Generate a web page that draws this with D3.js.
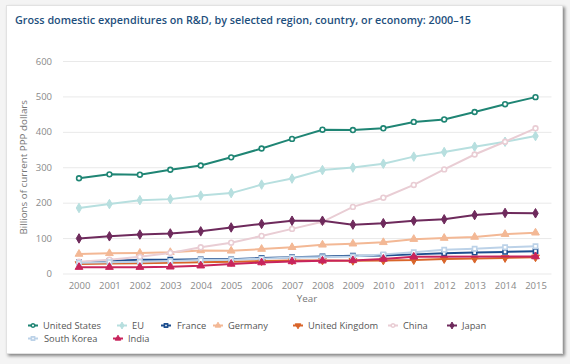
<!DOCTYPE html>
<html>
<head>
<meta charset="utf-8">
<script src="https://cdn.jsdelivr.net/npm/d3@7"></script>
<style>
  html, body { margin: 0; padding: 0; background: #f4f4f4; }
  #card {
    position: absolute; left: 6px; top: 5px; width: 555px; height: 347px;
    background: #fff; border: 1px solid #e2e2e2;
    box-shadow: 2px 2px 3px rgba(0,0,0,0.45);
  }
  svg { position: absolute; left: 0; top: 0; }
</style>
</head>
<body>
<div id="card"></div>
<div id="chart"></div>
<script>
// years on the x axis
var years = d3.range(2000, 2016);

// series values, billions of current PPP dollars
var unitedStates = [269, 280, 279, 293, 305, 328, 353, 380, 406, 405, 410, 428, 435, 456, 478, 498];
var eu = [185, 196, 207, 210, 220, 227, 251, 268, 292, 299, 310, 330, 343, 358, 372, 388];
var france = [32, 35, 39, 39, 40, 40, 44, 46, 48, 50, 51, 54, 57, 59, 61, 63];
var germany = [55, 57, 58, 60, 65, 64, 69, 74, 81, 84, 88, 97, 100, 103, 111, 115];
var unitedKingdom = [27, 28, 29, 30, 32, 33, 35, 37, 37, 36, 37, 38, 41, 42, 44, 46];
var china = [33, 39, 47, 58, 74, 87, 106, 126, 146, 188, 214, 250, 294, 336, 372, 410];
var japan = [99, 105, 110, 113, 119, 130, 140, 149, 149, 138, 142, 149, 153, 165, 171, 170];
var southKorea = [30, 32, 33, 35, 38, 39, 42, 45, 46, 48, 54, 60, 67, 70, 74, 77];
var india = [18, 18, 18, 19, 22, 27, 31, 34, 36, 37, 41, 47, null, null, null, 48];

var yTicks = [0, 100, 200, 300, 400, 500, 600];

var series = [
  { name: "United States", values: unitedStates, color: "#1f8574", symbol: "circle", open: true },
  { name: "EU", values: eu, color: "#b7dfdf", symbol: "diamond", open: false },
  { name: "France", values: france, color: "#1d4e8f", symbol: "square", open: true },
  { name: "Germany", values: germany, color: "#f3b895", symbol: "triangle", open: false },
  { name: "United Kingdom", values: unitedKingdom, color: "#d9652a", symbol: "triangleDown", open: false },
  { name: "China", values: china, color: "#e9cdd4", symbol: "circle", open: true },
  { name: "Japan", values: japan, color: "#6e2a5c", symbol: "diamond", open: false },
  { name: "South Korea", values: southKorea, color: "#bcd2e8", symbol: "square", open: true },
  { name: "India", values: india, color: "#c8245c", symbol: "triangle", open: false }
];

var width = 570, height = 364;
var margin = { top: 61, right: 34, bottom: 90.5, left: 79 };

var svg = d3.select("#chart").append("svg")
  .attr("width", width)
  .attr("height", height)
  .style("font-family", "'Open Sans', sans-serif");

var x = d3.scaleLinear()
  .domain([2000, 2015])
  .range([margin.left, width - margin.right - 0.5]);

var y = d3.scaleLinear()
  .domain([0, 600])
  .range([height - margin.bottom, margin.top]);

// title
svg.append("text")
  .attr("x", 15)
  .attr("y", 24)
  .attr("fill", "#1e4f7d")
  .attr("font-size", 10.8)
  .attr("font-weight", 600)
  .text("Gross domestic expenditures on R&D, by selected region, country, or economy: 2000–15");

// gridlines + y labels
var yAxis = g => g
  .attr("transform", `translate(${margin.left - 16},0)`)
  .call(d3.axisLeft(y).tickValues(yTicks).tickSize(-(x.range()[1] - margin.left + 32)).tickPadding(11))
  .call(g => g.select(".domain").remove())
  .call(g => g.selectAll(".tick line").attr("stroke", "#e9e9e9"))
  .call(g => g.selectAll(".tick text").attr("fill", "#8a8a8a").attr("font-size", 9.5).attr("font-family", "'Open Sans', sans-serif"));

svg.append("g").call(yAxis);

var xAxis = g => g
  .attr("transform", `translate(0,${height - margin.bottom})`)
  .call(d3.axisBottom(x).tickValues(years).tickFormat(d3.format("d")).tickSize(0).tickPadding(9))
  .call(g => g.select(".domain").remove())
  .call(g => g.selectAll(".tick text").attr("fill", "#8a8a8a").attr("font-size", 9.5).attr("font-family", "'Open Sans', sans-serif"));

svg.append("g").call(xAxis);

// axis titles
svg.append("text")
  .attr("transform", `translate(27,${(y(0) + y(600)) / 2}) rotate(-90)`)
  .attr("text-anchor", "middle")
  .attr("fill", "#777")
  .attr("font-size", 9.8)
  .text("Billions of current PPP dollars");

svg.append("text")
  .attr("x", 307)
  .attr("y", 302)
  .attr("text-anchor", "middle")
  .attr("fill", "#777")
  .attr("font-size", 9.8)
  .text("Year");

var symbols = {
  circle: d3.symbolCircle,
  square: d3.symbolSquare,
  diamond: d3.symbolDiamond,
  triangle: d3.symbolTriangle,
  triangleDown: d3.symbolTriangle
};

function marker(sel, s, size) {
  sel.attr("d", d3.symbol().type(symbols[s.symbol]).size(size))
    .attr("fill", s.open ? "#fff" : s.color)
    .attr("stroke", s.color)
    .attr("stroke-width", s.open ? 1.6 : 1);
}

var line = d3.line()
  .x(d => x(d[0]))
  .y(d => y(d[1]));

// lines
var group = svg.append("g")
  .selectAll("g")
  .data(series)
  .join("g");

group.append("path")
  .attr("fill", "none")
  .attr("stroke", d => d.color)
  .attr("stroke-width", 2)
  .attr("d", d => line(years.map((yr, i) => [yr, d.values[i]]).filter(p => p[1] != null)));

group.each(function(s) {
  d3.select(this).selectAll("path.pt")
    .data(years.map((yr, i) => [yr, s.values[i]]).filter(p => p[1] != null))
    .join("path")
    .attr("class", "pt")
    .attr("transform", p => `translate(${x(p[0])},${y(p[1])})` + (s.symbol === "triangleDown" ? " rotate(180)" : ""))
    .call(marker, s, s.open ? 18 : 26);
});

// legend, two rows
var legendPos = [
  [33, 325.5], [122, 325.5], [166, 325.5], [218, 325.5], [298, 325.5], [393, 325.5], [452, 325.5],
  [33, 338.5], [118, 338.5]
];

var legend = svg.append("g")
  .selectAll("g")
  .data(series)
  .join("g")
  .attr("transform", (d, i) => `translate(${legendPos[i][0]},${legendPos[i][1]})`);

legend.append("line")
  .attr("x1", -5).attr("x2", 5)
  .attr("stroke", d => d.color)
  .attr("stroke-width", 2);

legend.append("path")
  .attr("transform", d => d.symbol === "triangleDown" ? "rotate(180)" : null)
  .each(function(s) { d3.select(this).call(marker, s, s.open ? 10 : 14); });

legend.append("text")
  .attr("x", d => d.name === "France" || d.name === "South Korea" ? 11 : 10)
  .attr("y", 3.3)
  .attr("fill", "#555")
  .attr("font-size", 9.3)
  .text(d => d.name);
</script>
</body>
</html>
